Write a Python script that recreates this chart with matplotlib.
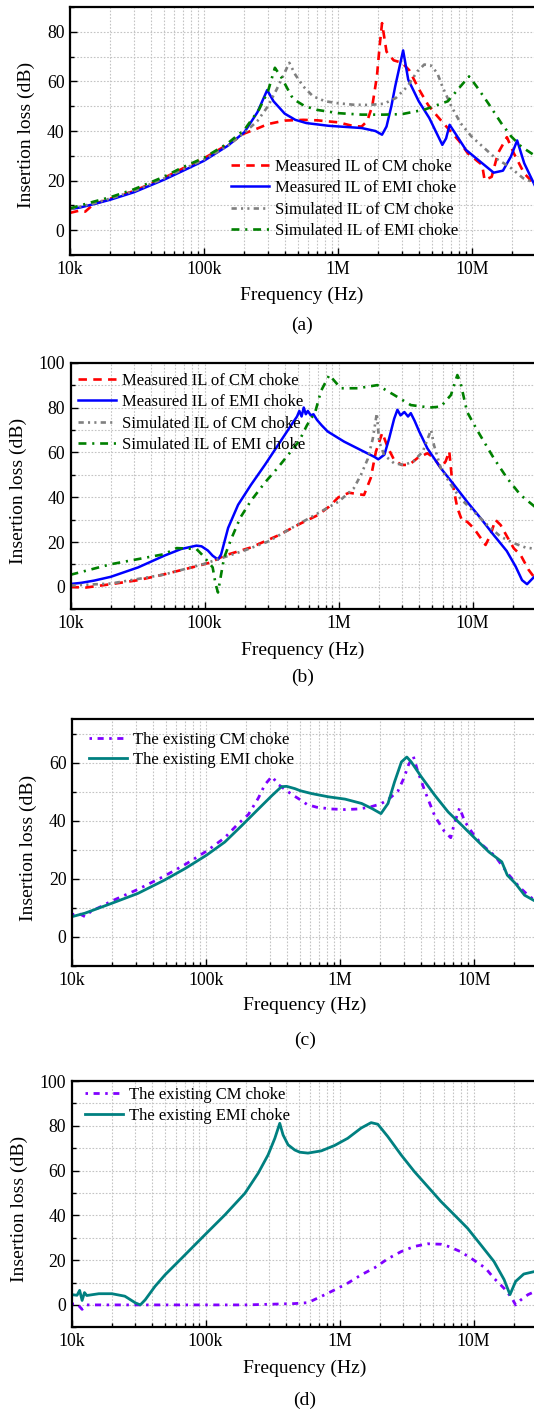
import matplotlib
matplotlib.use("Agg")
import matplotlib.pyplot as plt
from matplotlib.ticker import FixedLocator, NullFormatter, FuncFormatter, MultipleLocator

plt.rcParams['font.family'] = ['Liberation Serif', 'DejaVu Serif']

# ---------------- Panel (a) ----------------
a_meas_emi_f = [1e4, 1.2e4, 1.5e4, 2e4, 3e4, 5e4, 7e4, 1e5, 1.5e5, 2e5, 2.5e5, 2.96e5, 3.3e5, 4e5, 4.8e5,
                5.8e5, 8.5e5, 1.5e6, 1.9e6, 2.13e6, 2.3e6, 2.5e6, 2.67e6, 3.06e6, 3.34e6, 4.0e6, 4.8e6, 6.0e6,
                6.4e6, 6.8e6, 7.5e6, 9e6, 1.19e7, 1.45e7, 1.7e7, 1.95e7, 2.17e7, 2.45e7, 2.93e7]
a_meas_emi_v = [8.5, 9.2, 10.5, 12.3, 15.3, 20.3, 24, 28, 34, 39.5, 47.5, 56.5, 52, 47, 44.5,
                43.2, 42.1, 41.2, 40, 38.5, 41.8, 50, 58, 72.5, 60.7, 52, 45.2, 34.4,
                37, 42.5, 39, 32.4, 27, 23.2, 24, 29.7, 36.2, 27, 18.2]

a_meas_cm_f = [1e4, 1.2e4, 1.3e4, 1.5e4, 2e4, 3e4, 5e4, 7e4, 1e5, 1.5e5, 2e5, 2.5e5, 3e5, 4e5, 5.5e5, 7e5,
               1e6, 1.3e6, 1.5e6, 1.65e6, 1.8e6, 1.95e6, 2.05e6, 2.13e6, 2.3e6, 2.6e6, 3.0e6, 3.4e6, 4.0e6,
               4.7e6, 5.5e6, 6.5e6, 8e6, 9.3e6, 1.19e7, 1.24e7, 1.4e7, 1.56e7, 1.82e7, 2.05e7, 2.45e7, 2.93e7]
a_meas_cm_v = [7, 8, 7.5, 10.5, 12.7, 15.8, 21, 25, 29, 34.5, 39, 41, 42.8, 44.2, 44.5, 44.3,
               43.5, 42, 41.8, 44, 50, 62, 75, 83.5, 72, 68.5, 67.5, 64.5, 57,
               50.5, 46, 41.5, 36, 31, 26.3, 20.2, 21.5, 31, 37.5, 31, 22.9, 18.5]

a_sim_cm_f = [1e4, 1.5e4, 2e4, 3e4, 5e4, 7e4, 1e5, 1.5e5, 2e5, 2.5e5, 3e5, 3.5e5, 4.33e5, 4.8e5, 5.5e5,
              6.5e5, 8e5, 1e6, 1.3e6, 1.7e6, 2.2e6, 2.7e6, 3.3e6, 3.9e6, 4.4e6, 4.9e6, 5.5e6, 6e6, 7e6,
              8.2e6, 9.9e6, 1.2e7, 1.5e7, 1.9e7, 2.4e7, 2.93e7]
a_sim_cm_v = [8.5, 10.8, 12.8, 15.8, 20.8, 24.6, 28.5, 34, 39.3, 44, 50, 57, 67.5, 62.7, 58,
              54, 52, 51.2, 50.6, 50.5, 51, 53.3, 58, 64, 66.8, 66.5, 63.4, 58, 50,
              43.2, 37.8, 33.7, 29, 25.6, 21, 19]

a_sim_emi_f = [1e4, 1.5e4, 2e4, 3e4, 5e4, 7e4, 1e5, 1.5e5, 2e5, 2.57e5, 3e5, 3.38e5, 3.8e5, 4.5e5, 4.76e5,
               5.65e5, 7e5, 1e6, 1.5e6, 2.2e6, 3e6, 4.4e6, 6.6e6, 8.2e6, 9.5e6, 1.08e7, 1.32e7, 1.65e7,
               1.96e7, 2.33e7, 2.88e7]
a_sim_emi_v = [8.8, 11.5, 13.3, 16.5, 21.5, 25.5, 29.2, 35, 40.5, 48.6, 56, 65.5, 61.4, 54, 52.5,
               50, 48.5, 47.2, 46.6, 46.6, 46.8, 48.6, 52, 58, 62, 58, 51.2, 43.2,
               37.8, 33.7, 30.4]

# ---------------- Panel (b) ----------------
b_meas_emi_f = [1e4, 1.2e4, 1.5e4, 2e4, 3.2e4, 5e4, 6.7e4, 8.7e4, 9.5e4, 1.06e5, 1.15e5, 1.26e5, 1.33e5,
                1.5e5, 1.78e5, 2.22e5, 2.82e5, 3.54e5, 4.45e5, 4.9e5, 5.1e5, 5.3e5, 5.5e5, 5.7e5, 5.9e5,
                6.2e5, 6.5e5, 6.9e5, 7.5e5, 8.3e5, 1.1e6, 1.47e6, 1.85e6, 1.98e6, 2.2e6, 2.38e6, 2.6e6,
                2.75e6, 2.9e6, 3.1e6, 3.3e6, 3.46e6, 3.7e6, 4.0e6, 4.6e6, 5.8e6, 7.3e6, 9.1e6, 1.15e7,
                1.44e7, 1.8e7, 2.1e7, 2.34e7, 2.55e7, 2.8e7, 2.95e7]
b_meas_emi_v = [1.3, 1.8, 2.8, 4.5, 8.7, 13.9, 16.9, 18.4, 18.1, 16.2, 13.9, 12.2, 14.5,
                26.3, 36.6, 45.5, 54.4, 63.3, 72.3, 76, 78.5, 76, 80, 77, 78.5,
                76.5, 77, 74.5, 72, 69.3, 64.8, 61, 58, 56.9, 59, 66, 75,
                79, 76.5, 78, 76, 77.5, 74, 69.3, 61.8, 52.9, 45.4, 38, 30.6,
                23.1, 16, 9, 3, 1.2, 3.7, 5]

b_meas_cm_f = [1e4, 1.3e4, 2e4, 3.2e4, 5e4, 9e4, 1.11e5, 1.4e5, 2.22e5, 3.5e5, 5.1e5, 7e5, 8.5e5, 1e6,
               1.2e6, 1.35e6, 1.55e6, 1.74e6, 1.9e6, 2.12e6, 2.32e6, 2.6e6, 2.95e6, 3.36e6, 3.87e6,
               4.6e6, 5.15e6, 5.8e6, 6.3e6, 6.7e6, 7.05e6, 7.7e6, 8.4e6, 9.1e6, 1.02e7, 1.15e7, 1.25e7,
               1.36e7, 1.48e7, 1.62e7, 1.81e7, 2.03e7, 2.28e7, 2.62e7, 2.95e7]
b_meas_cm_v = [0, -0.3, 1.2, 3, 5.6, 9.4, 10.9, 13.9, 17.6, 22.8, 28, 32, 35.8, 40,
               42, 41.5, 41, 48.6, 60.3, 68.7, 62.5, 56.6, 54.4, 54.4, 57.4,
               59.6, 57.6, 53, 56, 60.5, 47, 35.2, 29.1, 29.1, 26.2, 21.8, 18.7,
               23.1, 29.9, 27.6, 22.4, 17.2, 14.3, 7.6, 3.5]

b_sim_cm_f = [1e4, 2e4, 5e4, 1e5, 2e5, 3e5, 4.7e5, 7e5, 1e6, 1.3e6, 1.47e6, 1.65e6, 1.8e6, 1.93e6, 2.01e6,
              2.19e6, 2.6e6, 3.08e6, 3.6e6, 4.25e6, 4.9e6, 5.15e6, 5.8e6, 6.9e6, 8.1e6, 1.02e7, 1.29e7,
              1.62e7, 2.03e7, 2.5e7, 2.95e7]
b_sim_cm_v = [0.6, 1.5, 5.5, 10.3, 16.3, 20.3, 27, 32.8, 38, 44, 50, 57, 66, 77.4, 64.8,
              58.8, 55.1, 54.4, 55.9, 60.3, 70, 63.3, 52.9, 45.5, 39.5, 33.6, 27.6,
              22.4, 19.5, 17.5, 17]

b_sim_emi_f = [1e4, 2e4, 3.2e4, 5e4, 6.2e4, 8.7e4, 9.5e4, 1.06e5, 1.15e5, 1.21e5, 1.26e5, 1.33e5, 1.4e5,
               1.58e5, 1.85e5, 2.22e5, 2.82e5, 3.54e5, 4.45e5, 5.1e5, 5.8e5, 6.7e5, 7.4e5, 8.53e5,
               1.04e6, 1.39e6, 1.95e6, 2.6e6, 3.46e6, 4.8e6, 5.8e6, 6.9e6, 7.7e6, 8.1e6, 9.1e6, 1.08e7,
               1.44e7, 1.81e7, 2.28e7, 2.95e7]
b_sim_emi_v = [5.4, 10.1, 12.4, 14.6, 17.3, 16.9, 14.6, 11.3, 8.7, 1.2, -2.5, 5.6, 13,
               21.3, 30.9, 38.4, 46.5, 53.3, 60.7, 65.2, 72, 78, 87.4, 94.5,
               88.6, 88.6, 90, 85.6, 81.1, 80, 80.4, 85.6, 94.5, 91.5, 78.1, 70,
               57.4, 48.5, 41, 35.5]

# ---------------- Panel (c) ----------------
c_emi_f = [1e4, 1.25e4, 1.98e4, 3.1e4, 4.9e4, 7e4, 1.01e5, 1.38e5, 1.85e5, 2.46e5, 3.1e5, 3.66e5, 4e5,
           4.61e5, 5.04e5, 6.15e5, 8.18e5, 1.09e6, 1.45e6, 1.74e6, 2.02e6, 2.28e6, 2.55e6, 2.87e6, 3.15e6,
           3.4e6, 4.05e6, 5.1e6, 6.4e6, 8.1e6, 1.02e7, 1.29e7, 1.61e7, 1.77e7, 2.04e7, 2.38e7, 3e7]
c_emi_v = [7, 8.2, 11.6, 15, 19.6, 23.6, 28.2, 32.7, 38.4, 44.1, 48.7, 51.8, 51.9,
           51.1, 50.4, 49.4, 48.3, 47.5, 46, 44.2, 42.5, 46, 53.4, 60.3, 62,
           60.3, 55.1, 48.8, 43.1, 38.5, 33.9, 29.3, 25.9, 21.3, 18.4, 14.4, 11.8]

c_cm_f = [1e4, 1.1e4, 1.25e4, 1.4e4, 1.6e4, 1.98e4, 3.1e4, 4.9e4, 7e4, 1.01e5, 1.38e5, 1.72e5, 2.07e5,
          2.46e5, 2.75e5, 3.1e5, 3.47e5, 4.37e5, 5.04e5, 5.7e5, 6.7e5, 8.6e5, 1.09e6, 1.37e6, 1.65e6,
          2e6, 2.28e6, 2.7e6, 3.0e6, 3.25e6, 3.52e6, 3.8e6, 4.3e6, 5.1e6, 6.0e6, 6.7e6, 7.1e6, 7.8e6,
          8.5e6, 9.7e6, 1.14e7, 1.44e7, 1.81e7, 2.16e7, 2.58e7, 3e7]
c_cm_v = [7.6, 8.3, 7, 9, 10.2, 12.4, 16.4, 21, 25, 29.6, 34.2, 38.8, 42.2,
          47.9, 52.5, 55.3, 52.5, 49.1, 47.3, 45.6, 44.7, 44.1, 43.9, 44.1, 44.7,
          45.8, 47.3, 50.2, 54.8, 59.4, 62.3, 57.1, 50.2, 41.6, 36.4, 34.2, 38.8, 44.5,
          39.9, 35.9, 31.9, 27.8, 21.5, 17.4, 14, 12]

# ---------------- Panel (d) ----------------
d_emi_f = [1e4, 1.1e4, 1.15e4, 1.2e4, 1.25e4, 1.3e4, 1.6e4, 2e4, 2.5e4, 3e4, 3.26e4, 3.55e4, 4.2e4, 5e4,
           6.65e4, 8.85e4, 1.02e5, 1.4e5, 1.97e5, 2.47e5, 2.93e5, 3.29e5, 3.58e5, 3.79e5, 4.13e5,
           4.63e5, 5.05e5, 5.81e5, 7.31e5, 9.18e5, 1.15e6, 1.45e6, 1.72e6, 1.93e6, 2.29e6, 2.88e6,
           3.61e6, 4.54e6, 5.71e6, 7.16e6, 9e6, 1.13e7, 1.42e7, 1.69e7, 1.87e7, 2.06e7, 2.37e7, 3e7]
d_emi_v = [4.6, 4.3, 6.5, 2, 5.5, 4.2, 5, 5, 3.9, 0.9, 0, 2.3, 8.3, 13.5,
           20.9, 28.4, 32.1, 40.3, 49.9, 58.8, 67, 74.4, 81.1, 75.9, 71.5,
           69.2, 68.2, 67.8, 68.8, 71.2, 74.4, 79, 81.4, 80.7, 75.2, 67,
           59.6, 52.9, 46.2, 40.3, 34.3, 26.9, 19.4, 11.3, 4.6, 10.5, 13.8, 15.2]

d_cm_f = [1e4, 1.1e4, 1.2e4, 1.3e4, 1.5e4, 3e4, 1e5, 2e5, 4.63e5, 5.81e5, 7.31e5, 9.18e5, 1.15e6, 1.45e6,
          1.84e6, 2.29e6, 2.88e6, 3.61e6, 4.54e6, 5.71e6, 6.5e6, 8e6, 1e7, 1.23e7, 1.42e7, 1.69e7,
          1.92e7, 2.06e7, 2.25e7, 2.55e7, 3e7]
d_cm_v = [0.4, 0.5, -2, 0, 0, 0, 0, 0, 0.6, 1, 3.8, 6.7, 9.7, 13.4,
          16.7, 20.6, 23.8, 26.1, 27.3, 27.1, 26.1, 23.8, 20.1, 16.4, 11.9, 7.4,
          3.3, 0, 2.2, 4.6, 6.5]

x_tick_vals = [1e4, 1e5, 1e6, 1e7]
x_tick_labels = ['10k', '100k', '1M', '10M']

labels_ab = ['Measured IL of CM choke', 'Measured IL of EMI choke',
             'Simulated IL of CM choke', 'Simulated IL of EMI choke']
labels_cd = ['The existing CM choke', 'The existing EMI choke']

RED, BLUE, GREY, GREEN = '#ff0000', '#0000ff', '#808080', '#008000'
PURPLE, TEAL = '#8000ff', '#008080'

W, H = 534, 1412
fig = plt.figure(figsize=(W / 100, H / 100), dpi=100)

FS = 12.8      # tick labels
FL = 14.0      # axis labels / captions
FLEG = 12.0    # legend
AXW = 466


def make_ax(left, top, bottom, ylim, yticks):
    ax = fig.add_axes([left / W, 1 - bottom / H, AXW / W, (bottom - top) / H])
    ax.set_xscale('log')
    ax.set_xlim(1e4, 3e7)
    ax.set_ylim(*ylim)
    ax.xaxis.set_major_locator(FixedLocator(x_tick_vals))
    ax.xaxis.set_major_formatter(FuncFormatter(
        lambda v, p: x_tick_labels[x_tick_vals.index(v)] if v in x_tick_vals else ''))
    minor = [m * 10 ** e for e in range(4, 8) for m in range(2, 10) if m * 10 ** e <= 3e7]
    ax.xaxis.set_minor_locator(FixedLocator(minor))
    ax.xaxis.set_minor_formatter(NullFormatter())
    ax.yaxis.set_major_locator(FixedLocator(yticks))
    ax.yaxis.set_minor_locator(MultipleLocator(10))
    ax.grid(True, which='both', axis='both', color='#c4c4c4', linestyle=(0, (1.5, 1.5)), linewidth=0.8)
    ax.set_axisbelow(True)
    ax.tick_params(which='both', direction='in', labelsize=FS, width=1.0)
    ax.tick_params(which='major', length=5)
    ax.tick_params(which='minor', length=3)
    ax.tick_params(axis='both', pad=4)
    for s in ax.spines.values():
        s.set_linewidth(1.6)
    return ax


def texts(cx, ylab_x, ylab_y, xlab_y, cap_y, cap):
    fig.text(ylab_x / W, 1 - ylab_y / H, 'Insertion loss (dB)', rotation=90,
             ha='center', va='center', fontsize=FL)
    fig.text(cx / W, 1 - xlab_y / H, 'Frequency (Hz)', ha='center', va='center', fontsize=FL)
    fig.text(cx / W, 1 - cap_y / H, cap, ha='center', va='center', fontsize=FL)


def four_lines(ax, cm_f, cm_v, emi_f, emi_v, scm_f, scm_v, semi_f, semi_v):
    h1, = ax.plot(cm_f, cm_v, color=RED, lw=1.9, linestyle=(0, (3.2, 2.4)))
    h2, = ax.plot(emi_f, emi_v, color=BLUE, lw=1.8)
    h3, = ax.plot(scm_f, scm_v, color=GREY, lw=1.9, linestyle=(0, (2.0, 1.6, 0.8, 1.6, 0.8, 1.6)))
    h4, = ax.plot(semi_f, semi_v, color=GREEN, lw=1.9, linestyle=(0, (3.0, 2.2, 0.8, 2.2)))
    return [h1, h2, h3, h4]


def legend(ax, handles, labels, x, y, spacing):
    ax.legend(handles, labels, loc='upper left', bbox_to_anchor=(x / W, 1 - y / H),
              bbox_transform=fig.transFigure, frameon=False, fontsize=FLEG, borderpad=0,
              handlelength=2.3, handletextpad=0.35, labelspacing=spacing, borderaxespad=0)


# (a)
ax = make_ax(70, 7, 255, (-10, 90), [0, 20, 40, 60, 80])
hs = four_lines(ax, a_meas_cm_f, a_meas_cm_v, a_meas_emi_f, a_meas_emi_v,
                a_sim_cm_f, a_sim_cm_v, a_sim_emi_f, a_sim_emi_v)
legend(ax, hs, labels_ab, 231, 159, 0.32)
texts(302, 26, 135, 295, 325, '(a)')

# (b)
ax = make_ax(70.5, 362.7, 609.3, (-10, 100), [0, 20, 40, 60, 80, 100])
hs = four_lines(ax, b_meas_cm_f, b_meas_cm_v, b_meas_emi_f, b_meas_emi_v,
                b_sim_cm_f, b_sim_cm_v, b_sim_emi_f, b_sim_emi_v)
legend(ax, hs, labels_ab, 78, 373, 0.32)
texts(303, 18, 491, 650, 677, '(b)')

# (c)
ax = make_ax(72, 719.3, 966, (-10, 75), [0, 20, 40, 60])
h1, = ax.plot(c_cm_f, c_cm_v, color=PURPLE, lw=2.0, linestyle=(0, (0.9, 2.0, 2.2, 2.0)))
h2, = ax.plot(c_emi_f, c_emi_v, color=TEAL, lw=2.0)
legend(ax, [h1, h2], labels_cd, 89, 731.5, 0.27)
texts(305, 28, 848, 1005, 1040, '(c)')

# (d)
ax = make_ax(71.5, 1081, 1327.3, (-10, 100), [0, 20, 40, 60, 80, 100])
h1, = ax.plot(d_cm_f, d_cm_v, color=PURPLE, lw=2.0, linestyle=(0, (0.9, 2.0, 2.2, 2.0)))
h2, = ax.plot(d_emi_f, d_emi_v, color=TEAL, lw=2.0)
legend(ax, [h1, h2], labels_cd, 85, 1087, 0.27)
texts(305, 19, 1209, 1368, 1400, '(d)')

fig.savefig('out.png', dpi=100)
